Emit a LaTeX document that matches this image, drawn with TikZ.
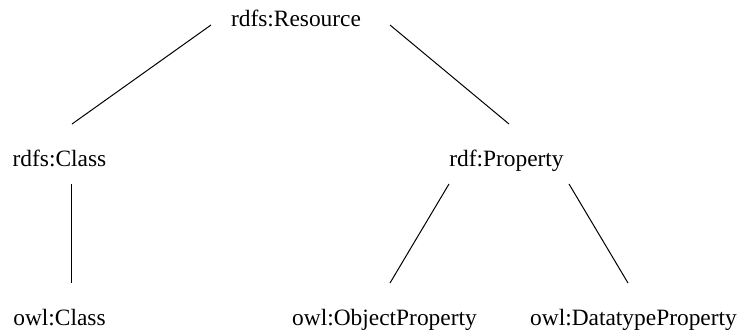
\documentclass[tikz,border=0pt]{standalone}
\usepackage{fontspec}
\setmainfont{Liberation Serif}
\usepackage{tikz}
\usetikzlibrary{calc}
\newcommand{\termColor}{black}
\newcommand{\linkColor}{black}
\newcommand{\termSize}{\fontsize{11.7}{14}\selectfont}
\newcommand{\drawLink}[6]{
	\draw[link] ($(#1)+(#2,#3)$) -- ($(#4)+(#5,#6)$);
}
\tikzset{term/.style = {\termColor, font=\termSize, anchor=base, inner sep=0pt}}
\tikzset{link/.style = {\linkColor, line width=0.5pt}}
\begin{document}
\begin{tikzpicture}[x=0.5pt,y=-0.5pt]
                        \useasboundingbox (0,0) rectangle (741,333);

                        % top and middle row
                        \node[term] (res) at (296,26) {rdfs:Resource};
                        \node[term] (cls) at (59.5,166) {rdfs:Class};
                        \node[term] (prop) at (506.5,166) {rdf:Property};

                        % bottom row
                        \node[term] (ocls) at (59.5,325) {owl:Class};
                        \node[term] (oprop) at (384.5,325) {owl:ObjectProperty};
                        \node[term] (dprop) at (633.5,325) {owl:DatatypeProperty};

                        \foreach \p/\px/\py/\q/\qx/\qy in {res.base/-85/-1/cls.base/12.5/-42,
                                res.base/94/-1/prop.base/2.5/-42,
                                cls.base/11.5/18/ocls.base/11.5/-42,
                                prop.base/-57.5/18/oprop.base/5.5/-42,
                                prop.base/62.5/18/dprop.base/-5.5/-42}
                        {
                            \drawLink{\p}{\px}{\py}{\q}{\qx}{\qy}
                        }
                    \end{tikzpicture}
\end{document}
